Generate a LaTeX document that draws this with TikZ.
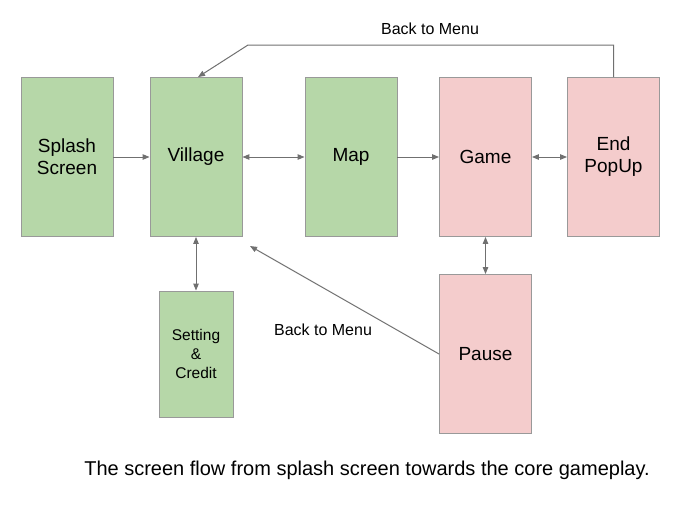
\documentclass[tikz,border=0pt]{standalone}
\usepackage{fontspec}
\setmainfont{Liberation Sans}
\usepackage{tikz}
\usetikzlibrary{arrows.meta}

\definecolor{boxgreen}{HTML}{B6D7A8}
\definecolor{boxpink}{HTML}{F4CCCC}
\definecolor{edgegray}{HTML}{999999}
\definecolor{linegray}{HTML}{707070}

\begin{document}
\begin{tikzpicture}[x=1pt,y=-1pt,
  screen/.style={draw=edgegray, line width=0.9pt, minimum width=92pt, minimum height=159pt,
    align=center, inner sep=2pt, font=\fontsize{19}{22}\selectfont},
  green/.style={screen, fill=boxgreen},
  pink/.style={screen, fill=boxpink},
  flow/.style={draw=linegray, line width=1pt, -{Triangle[length=7pt,width=5.5pt]}},
  both/.style={flow, {Triangle[length=7pt,width=5.5pt]}-{Triangle[length=7pt,width=5.5pt]}},
  label/.style={font=\fontsize{16}{18}\selectfont}]

\useasboundingbox (0,0) rectangle (684,507);

% Screens
\node[green] (splash) at (67,157) {Splash\\Screen};
\node[green] (village) at (196,157) {Village};
\node[green] (map) at (351,157) {Map};
\node[pink] (game) at (485.5,157) {Game};
\node[pink] (endpop) at (613.5,157) {End\\PopUp};
\node[green, minimum width=74pt, minimum height=126pt, font=\fontsize{15.5}{19}\selectfont]
  (setting) at (196,354) {Setting\\\&\\Credit};
\node[pink] (pause) at (485.5,354) {Pause};

% Arrows
\draw[flow] (splash) -- (village);
\draw[both] (village) -- (map);
\draw[flow] (map) -- (game);
\draw[both] (game) -- (endpop);
\draw[both] (village) -- (setting);
\draw[both] (game) -- (pause);

% Back to menu
\coordinate (corner) at (248,45);
\coordinate (pausetip) at (250,246);
\draw[flow] (endpop.north) |- (corner) -- ([xshift=2pt]village.north);
\draw[flow] (pause.west) -- (pausetip);

% Labels
\node[label] (backtop) at (430,29) {Back to Menu};
\node[label] (backlow) at (323,330) {Back to Menu};
\node[font=\fontsize{20}{24}\selectfont] (caption) at (367,470)
  {The screen flow from splash screen towards the core gameplay.};

\end{tikzpicture}
\end{document}
